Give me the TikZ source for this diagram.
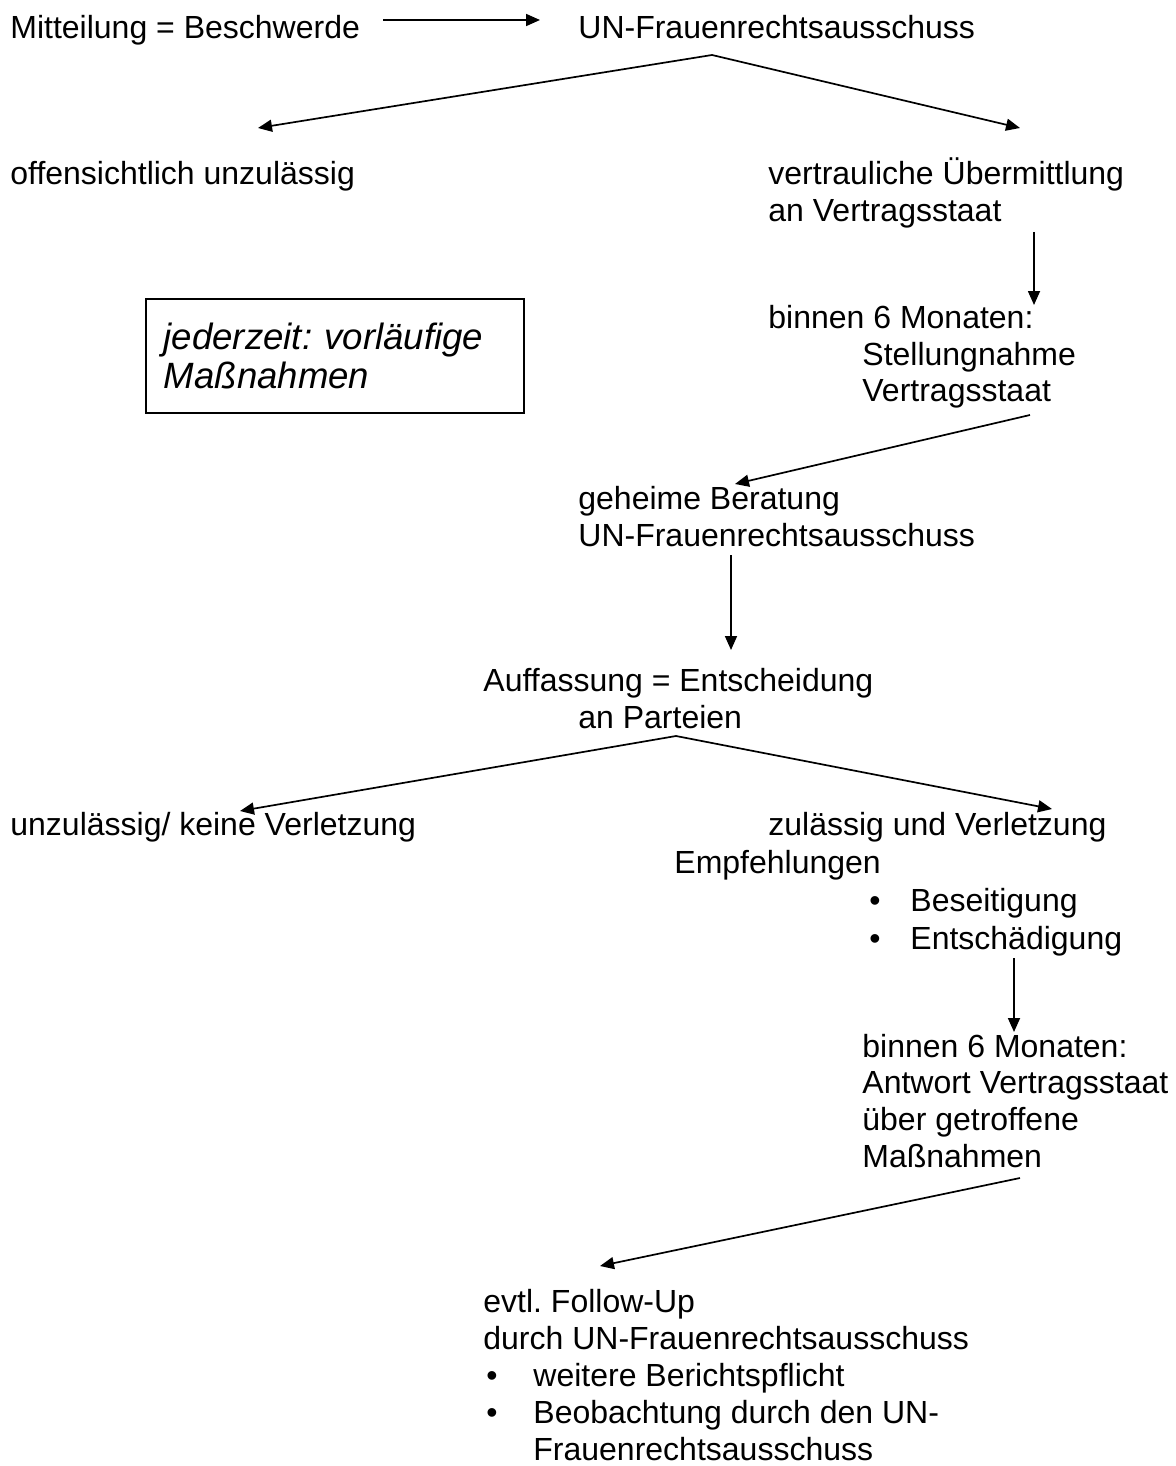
\documentclass[tikz,border=0pt]{standalone}
\usepackage{fontspec}
\setmainfont{Liberation Sans}
\usetikzlibrary{arrows.meta,calc}
\begin{document}
\frenchspacing
\begin{tikzpicture}[x=0.5pt,y=-0.5pt,
  txt/.style={anchor=base west,inner sep=0pt,font=\fontsize{16}{18.4}\selectfont},
  itbox/.style={draw,line width=0.8pt,anchor=north west,minimum width=189pt,minimum height=57pt,
     inner xsep=9pt,inner ysep=0pt,text width=171pt,align=left,
     font=\fontsize{18.3}{19.5}\selectfont\itshape},
  arr/.style={-{Triangle[length=7pt,width=6pt]},line width=0.85pt}]
\useasboundingbox (0,0) rectangle (1176,1466);
% text nodes
\node[txt] (mb) at (10,39) {Mitteilung = Beschwerde};
\node[txt] (un1) at (578,39) {UN-Frauenrechtsausschuss};
\node[txt] (off) at (10,185) {offensichtlich unzulässig};
\node[txt] (ver1) at (768,185) {vertrauliche Übermittlung};
\node[txt] (ver2) at (768,222) {an Vertragsstaat};
\node[itbox] (box) at (145,298) {jederzeit: vorläufige\\Maßnahmen};
\node[txt] (bin1) at (768,328) {binnen 6 Monaten:};
\node[txt] (st1) at (862,365) {Stellungnahme};
\node[txt] (st2) at (862,401) {Vertragsstaat};
\node[txt] (geh1) at (578,509) {geheime Beratung};
\node[txt] (geh2) at (578,546) {UN-Frauenrechtsausschuss};
\node[txt] (auf1) at (483,691) {Auffassung = Entscheidung};
\node[txt] (auf2) at (578,728) {an Parteien};
\node[txt] (unz) at (10,835) {unzulässig/ keine Verletzung};
\node[txt] (zul) at (768,835) {zulässig und Verletzung};
\node[txt] (emp) at (674,873) {Empfehlungen};
\node[txt] (bu1) at (869,911) {•};
\node[txt] (bes) at (910,911) {Beseitigung};
\node[txt] (bu2) at (869,949) {•};
\node[txt] (ent) at (910,949) {Entschädigung};
\node[txt] (bin2) at (862,1057) {binnen 6 Monaten:};
\node[txt] (ant) at (862,1093) {Antwort Vertragsstaat};
\node[txt] (ueb) at (862,1130) {über getroffene};
\node[txt] (mas) at (862,1167) {Maßnahmen};
\node[txt] (evt) at (483,1312) {evtl. Follow-Up};
\node[txt] (dur) at (483,1349) {durch UN-Frauenrechtsausschuss};
\node[txt] (bu3) at (486,1386) {•};
\node[txt] (wei) at (533,1386) {weitere Berichtspflicht};
\node[txt] (bu4) at (486,1423) {•};
\node[txt] (beo) at (533,1423) {Beobachtung durch den UN-};
\node[txt] (fra) at (533,1460) {Frauenrechtsausschuss};
% connector end points
\coordinate (a1s) at (383,20);  \coordinate (a1e) at (540,20);
\coordinate (ap1) at (712,55);
\coordinate (a2e) at (258,128); \coordinate (a3e) at (1020,128);
\coordinate (a4s) at (1034,232); \coordinate (a4e) at (1034,305);
\coordinate (a5s) at (1030,415); \coordinate (a5e) at (735,484);
\coordinate (a6s) at (731,555); \coordinate (a6e) at (731,650);
\coordinate (ap2) at (676,736);
\coordinate (a7e) at (240,811); \coordinate (a8e) at (1052,809);
\coordinate (a9s) at (1014,958); \coordinate (a9e) at (1014,1032);
\coordinate (a10s) at (1020,1178); \coordinate (a10e) at (600,1266);
% connectors
\draw[arr] (a1s) -- (a1e);
\draw[arr] (ap1) -- (a2e);
\draw[arr] (ap1) -- (a3e);
\draw[arr] (a4s) -- (a4e);
\draw[arr] (a5s) -- (a5e);
\draw[arr] (a6s) -- (a6e);
\draw[arr] (ap2) -- (a7e);
\draw[arr] (ap2) -- (a8e);
\draw[arr] (a9s) -- (a9e);
\draw[arr] (a10s) -- (a10e);
\end{tikzpicture}
\end{document}
